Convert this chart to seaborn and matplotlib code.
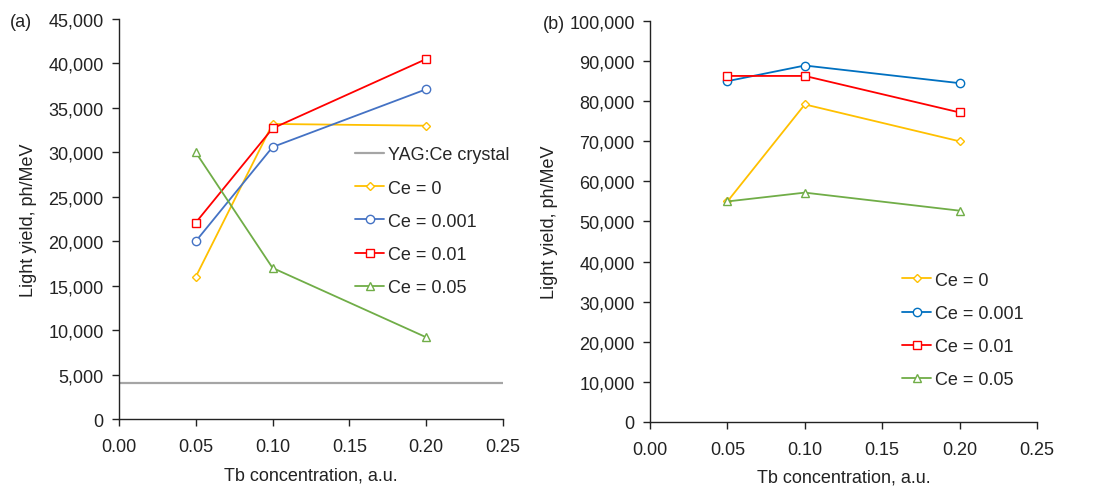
import numpy as np
import pandas as pd
import matplotlib
matplotlib.use("Agg")
import matplotlib.pyplot as plt
import seaborn as sns
from matplotlib.ticker import FuncFormatter

sns.set_theme(style="ticks")
plt.rcParams['font.family'] = ['Liberation Sans', 'DejaVu Sans']
FS = 13

tb = [0.05, 0.10, 0.20]
series_names = ["Ce = 0", "Ce = 0.001", "Ce = 0.01", "Ce = 0.05"]

a_ce0 = [16000, 33200, 33000]
a_ce0001 = [20000, 30600, 37100]
a_ce001 = [22100, 32700, 40500]
a_ce005 = [30000, 17000, 9200]
yag_x = [0.0, 0.25]
yag_y = [4000, 4000]

b_ce0 = [55000, 79200, 70000]
b_ce0001 = [85000, 88900, 84500]
b_ce001 = [86300, 86300, 77200]
b_ce005 = [55000, 57200, 52700]

colors_a = ["#FFC000", "#4472C4", "#FF0000", "#70AD47"]
colors_b = ["#FFC000", "#0070C0", "#FF0000", "#70AD47"]
markers = ["D", "o", "s", "^"]
msizes = [4.5, 6, 6, 6]

def build(vals):
    rows = []
    for name, v in zip(series_names, vals):
        for x, y in zip(tb, v):
            rows.append({"Tb": x, "LY": y, "series": name})
    return pd.DataFrame(rows)

df_a = build([a_ce0, a_ce0001, a_ce001, a_ce005])
df_b = build([b_ce0, b_ce0001, b_ce001, b_ce005])

fig = plt.figure(figsize=(11.15, 4.89), dpi=100)
ax_a = fig.add_axes([0.1067, 0.141, 0.3444, 0.818])
ax_b = fig.add_axes([0.583, 0.135, 0.347, 0.820])

fmt = FuncFormatter(lambda v, p: f"{int(v):,}")

def draw(ax, df, colors, ymax, ystep, xlabelpad):
    for i, name in enumerate(series_names):
        sub = df[df.series == name]
        sns.lineplot(data=sub, x="Tb", y="LY", ax=ax, color=colors[i],
                     marker=markers[i], markersize=msizes[i],
                     markerfacecolor="white", markeredgecolor=colors[i],
                     markeredgewidth=1.0, linewidth=1.3, label=name)
    ax.set_xlim(0, 0.25)
    ax.set_ylim(0, ymax)
    ax.set_xticks(np.arange(0, 0.251, 0.05))
    ax.set_xticklabels([f"{v:.2f}" for v in np.arange(0, 0.251, 0.05)])
    ax.set_yticks(np.arange(0, ymax + 1, ystep))
    ax.yaxis.set_major_formatter(fmt)
    for s in ["top", "right"]:
        ax.spines[s].set_visible(False)
    for s in ["left", "bottom"]:
        ax.spines[s].set_color("#222222")
        ax.spines[s].set_linewidth(1.0)
    ax.tick_params(axis="x", pad=9)
    ax.tick_params(axis="y", pad=6)
    ax.tick_params(axis="both", direction="out", length=5, width=1.0,
                   colors="#222222", labelsize=FS, labelcolor="#222222")
    ax.set_xlabel("Tb concentration, a.u.", fontsize=FS, labelpad=xlabelpad, color="#222222")
    ax.set_ylabel("Light yield, ph/MeV", fontsize=FS, labelpad=8, color="#222222")

# panel a
sns.lineplot(x=yag_x, y=yag_y, ax=ax_a, color="#A5A5A5", linewidth=1.6, label="YAG:Ce crystal")
draw(ax_a, df_a, colors_a, 45000, 5000, 8)
ax_a.legend(loc="upper left", bbox_to_anchor=(0.597, 0.70), frameon=False,
            fontsize=FS, handlelength=1.6, handletextpad=0.2,
            labelspacing=0.9, borderaxespad=0)

draw(ax_b, df_b, colors_b, 100000, 10000, 7)
ax_b.legend(loc="upper left", bbox_to_anchor=(0.633, 0.393), frameon=False,
            fontsize=FS, handlelength=1.6, handletextpad=0.2,
            labelspacing=0.9, borderaxespad=0)

fig.text(0.009, 0.945, "(a)", fontsize=FS, color="#222222")
fig.text(0.487, 0.94, "(b)", fontsize=FS, color="#222222")

fig.savefig("out.png", dpi=100)
